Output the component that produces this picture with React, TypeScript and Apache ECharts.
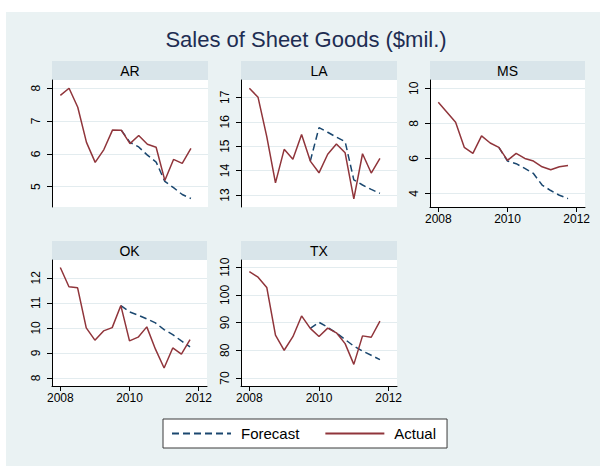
import React, { useEffect, useRef } from "react";
import * as echarts from "echarts";

// ---- Data ----
const quarters = [
  2008, 2008.25, 2008.5, 2008.75,
  2009, 2009.25, 2009.5, 2009.75,
  2010, 2010.25, 2010.5, 2010.75,
  2011, 2011.25, 2011.5, 2011.75,
];
const xTickLabels = [2008, 2010, 2012];

const stateNames = ["AR", "LA", "MS", "OK", "TX"];

const arActual = [7.78, 8.0, 7.42, 6.35, 5.74, 6.13, 6.73, 6.72, 6.31, 6.56, 6.29, 6.2, 5.19, 5.83, 5.71, 6.17];
const arForecast = [null, null, null, null, null, null, null, 6.72, 6.35, 6.21, 5.96, 5.75, 5.16, 4.97, 4.76, 4.64];
const arTicks = [5, 6, 7, 8];

const laActual = [17.37, 17.0, 15.39, 13.5, 14.87, 14.47, 15.48, 14.39, 13.91, 14.67, 15.09, 14.73, 12.84, 14.69, 13.9, 14.5];
const laForecast = [null, null, null, null, null, null, null, 14.39, 15.76, 15.57, 15.37, 15.19, 13.62, 13.41, 13.23, 13.07];
const laTicks = [13, 14, 15, 16, 17];

const msActual = [9.2, 8.63, 8.06, 6.63, 6.29, 7.28, 6.88, 6.63, 5.89, 6.29, 6.0, 5.85, 5.52, 5.35, 5.52, 5.6];
const msForecast = [null, null, null, null, null, null, null, 6.63, 5.85, 5.7, 5.43, 5.14, 4.48, 4.17, 3.9, 3.71];
const msTicks = [4, 6, 8, 10];

const okActual = [12.41, 11.64, 11.6, 10.0, 9.51, 9.88, 10.01, 10.89, 9.48, 9.63, 10.04, 9.15, 8.4, 9.2, 8.95, 9.53];
const okForecast = [null, null, null, null, null, null, null, 10.89, 10.64, 10.51, 10.36, 10.2, 9.93, 9.73, 9.48, 9.24];
const okTicks = [8, 9, 10, 11, 12];

const txActual = [108.4, 106.4, 102.7, 85.5, 80.0, 84.9, 92.4, 87.9, 85.0, 88.0, 86.3, 82.4, 74.9, 85.2, 84.7, 90.5];
const txForecast = [null, null, null, null, null, null, null, 87.9, 90.1, 88.3, 86.3, 83.9, 81.5, 79.7, 78.2, 76.6];
const txTicks = [70, 80, 90, 100, 110];

const actualSets = [arActual, laActual, msActual, okActual, txActual];
const forecastSets = [arForecast, laForecast, msForecast, okForecast, txForecast];
const tickSets = [arTicks, laTicks, msTicks, okTicks, txTicks];
const yRanges = [
  [4.38, 8.25],
  [12.51, 17.71],
  [3.23, 10.47],
  [7.68, 12.71],
  [67.1, 112.6],
];

// ---- Layout / style ----
const FONT = '"Liberation Sans", Arial, Helvetica, sans-serif';
const BG = "#eaf2f3";
const HEADER = "#d9e5ea";
const GRIDLINE = "#e3ecef";
const NAVY = "#1a476f";
const MAROON = "#90353b";

const layout = [
  { left: 52, top: 80, width: 156, height: 127, showX: false },
  { left: 241, top: 80, width: 156, height: 127, showX: false },
  { left: 430, top: 80, width: 155, height: 127, showX: true },
  { left: 52, top: 260, width: 155, height: 126, showX: true },
  { left: 241, top: 260, width: 156, height: 126, showX: true },
];
const HEADER_H = 19;

function pairs(vals: (number | null)[]) {
  return quarters.map((q, i) => [q, vals[i]]);
}

export default function App() {
  const ref = useRef<HTMLDivElement>(null);

  useEffect(() => {
    if (!ref.current) return;
    const chart = echarts.init(ref.current, null, { renderer: "svg" });

    const grids = layout.map((l) => ({
      left: l.left,
      top: l.top,
      width: l.width,
      height: l.height,
      show: true,
      backgroundColor: "#ffffff",
      borderWidth: 0,
      containLabel: false,
    }));

    const xAxes = layout.map((l, i) => ({
      type: "value",
      gridIndex: i,
      min: 2007.76,
      max: 2012.24,
      show: l.showX,
      axisLine: { show: l.showX, onZero: false, lineStyle: { color: "#000", width: 1 } },
      axisTick: {
        show: l.showX,
        length: 5,
        customValues: xTickLabels,
        lineStyle: { color: "#000", width: 1 },
      },
      axisLabel: {
        show: l.showX,
        customValues: xTickLabels,
        formatter: (v: number) => String(v),
        fontSize: 12,
        fontFamily: FONT,
        color: "#000",
        margin: 6,
      },
      splitLine: { show: false },
    }));

    const yAxes = layout.map((_, i) => ({
      type: "value",
      gridIndex: i,
      min: yRanges[i][0],
      max: yRanges[i][1],
      axisLine: { show: true, onZero: false, lineStyle: { color: "#000", width: 1 } },
      axisTick: {
        show: true,
        length: 5,
        customValues: tickSets[i],
        lineStyle: { color: "#000", width: 1 },
      },
      axisLabel: {
        show: true,
        customValues: tickSets[i],
        formatter: (v: number) => String(v),
        rotate: 90,
        fontSize: 12,
        fontFamily: FONT,
        color: "#000",
        margin: 10,
      },
      splitLine: { show: true, lineStyle: { color: GRIDLINE, width: 1.2 } },
    }));

    const series: any[] = [];
    layout.forEach((_, i) => {
      series.push({
        type: "line",
        name: "Forecast",
        xAxisIndex: i,
        yAxisIndex: i,
        data: pairs(forecastSets[i]),
        symbol: "none",
        connectNulls: false,
        lineStyle: { color: NAVY, width: 1.5, type: [7, 4] },
        itemStyle: { color: NAVY },
        z: 2,
      });
      series.push({
        type: "line",
        name: "Actual",
        xAxisIndex: i,
        yAxisIndex: i,
        data: pairs(actualSets[i]),
        symbol: "none",
        lineStyle: { color: MAROON, width: 1.5, type: "solid" },
        itemStyle: { color: MAROON },
        z: 3,
      });
    });

    const graphic: any[] = [
      { type: "rect", left: 0, top: 0, shape: { width: 600, height: 12 }, style: { fill: "#fff" }, silent: true },
      { type: "rect", left: 0, top: 0, shape: { width: 6, height: 466 }, style: { fill: "#fff" }, silent: true },
    ];
    layout.forEach((l, i) => {
      graphic.push({
        type: "rect",
        shape: { x: l.left, y: l.top - HEADER_H, width: l.width, height: HEADER_H },
        style: { fill: HEADER },
        silent: true,
      });
      graphic.push({
        type: "text",
        x: l.left + l.width / 2,
        y: l.top - HEADER_H / 2 + 0.5,
        style: {
          text: stateNames[i],
          fill: "#000",
          font: `14px ${FONT}`,
          textAlign: "center",
          textVerticalAlign: "middle",
        },
        silent: true,
      });
    });

    chart.setOption({
      animation: false,
      backgroundColor: BG,
      title: {
        text: "Sales of Sheet Goods ($mil.)",
        left: 306,
        top: 28,
        textAlign: "center",
        padding: 0,
        textStyle: {
          fontFamily: FONT,
          fontSize: 22,
          fontWeight: "normal",
          color: "#1e2d52",
        },
      },
      legend: {
        data: ["Forecast", "Actual"],
        left: 163,
        top: 419,
        orient: "horizontal",
        itemWidth: 59,
        itemHeight: 14,
        itemGap: 25,
        padding: [7, 11, 7, 8],
        backgroundColor: "#fff",
        borderColor: "#3a3a3a",
        borderWidth: 1,
        borderRadius: 0,
        selectedMode: false,
        itemStyle: { opacity: 0, borderWidth: 0 },
        textStyle: {
          fontFamily: FONT,
          fontSize: 15,
          color: "#000",
          padding: [0, 0, 0, 5],
        },
      },
      grid: grids,
      xAxis: xAxes,
      yAxis: yAxes,
      series,
      graphic,
    });

    return () => {
      chart.dispose();
    };
  }, []);

  return (
    <div
      ref={ref}
      style={{ position: "absolute", left: 0, top: 0, width: 600, height: 466 }}
    />
  );
}
